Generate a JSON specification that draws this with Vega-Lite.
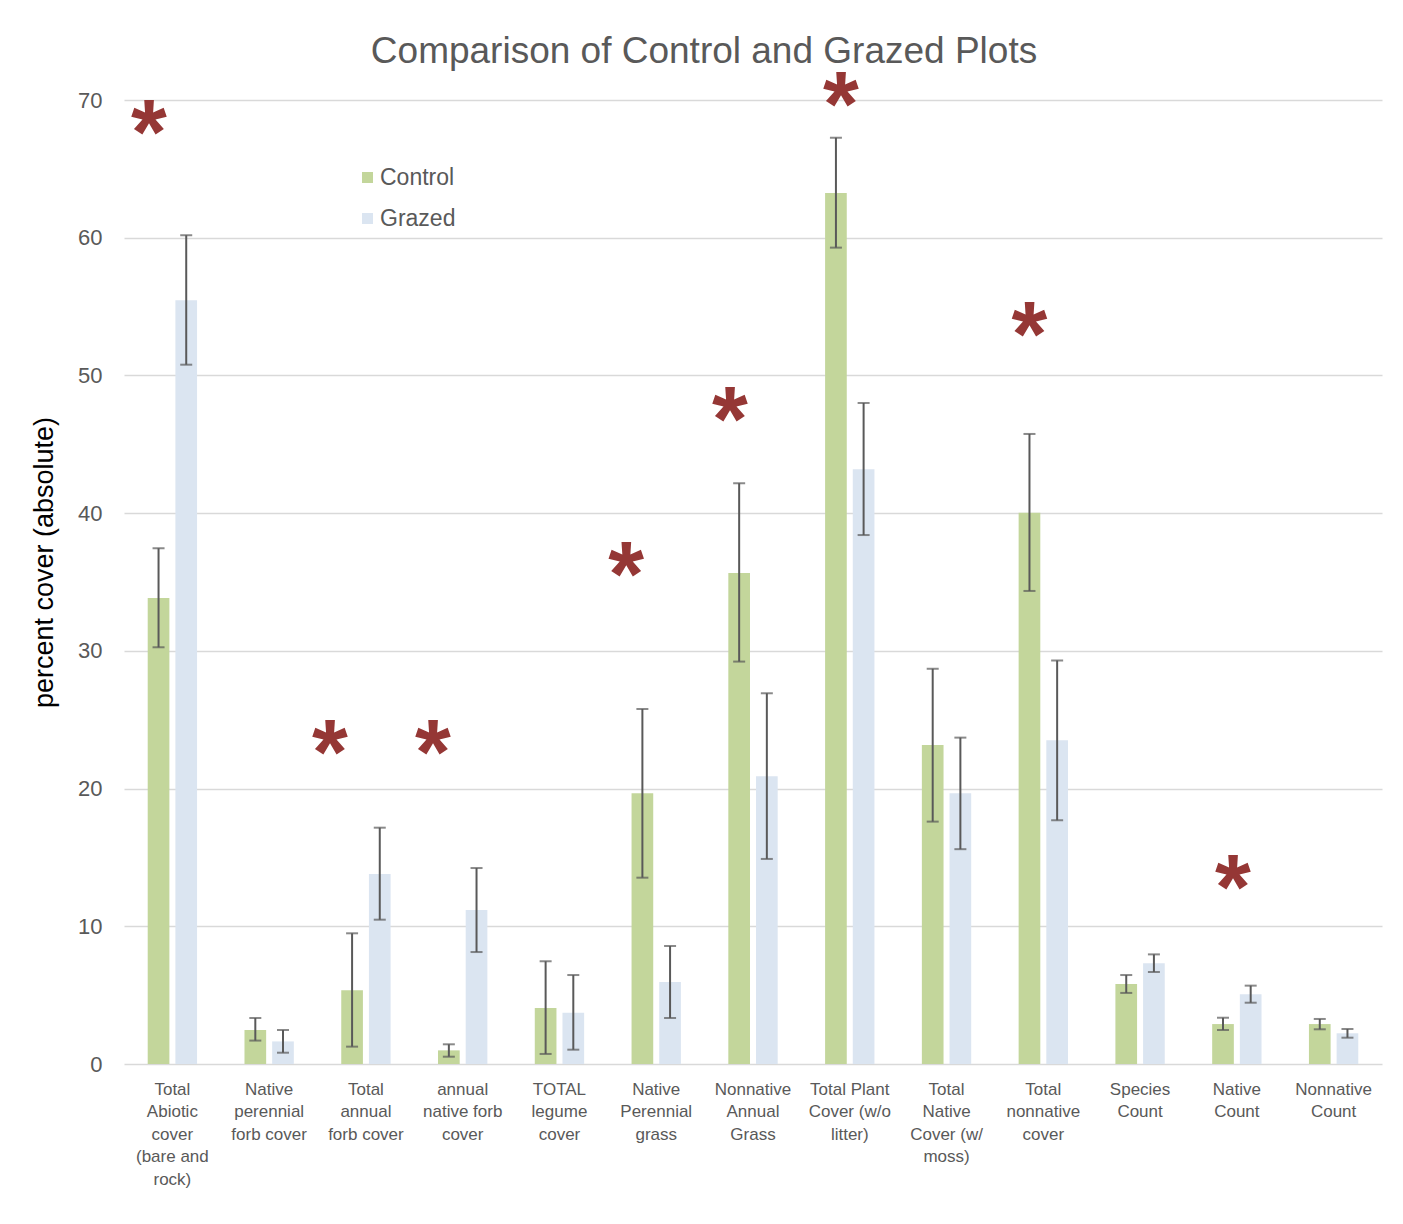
{
  "$schema": "https://vega.github.io/schema/vega-lite/v6.json",
  "width": 1258,
  "height": 964,
  "autosize": {"type": "none"},
  "padding": {"left": 124, "top": 100, "right": 21, "bottom": 160},
  "background": "white",
  "title": {
    "text": "Comparison of Control and Grazed Plots",
    "font": "Liberation Sans",
    "fontSize": 37,
    "fontWeight": "normal",
    "color": "#595959",
    "anchor": "middle",
    "frame": "group",
    "baseline": "alphabetic",
    "offset": -38,
    "dx": -49
  },
  "datasets": {
    "bars": [
      {"category": "Total Abiotic cover (bare and rock)", "group": "Control", "value": 33.84, "lo": 30.26, "hi": 37.45},
      {"category": "Total Abiotic cover (bare and rock)", "group": "Grazed", "value": 55.46, "lo": 50.78, "hi": 60.18},
      {"category": "Native perennial forb cover", "group": "Control", "value": 2.47, "lo": 1.7, "hi": 3.34},
      {"category": "Native perennial forb cover", "group": "Grazed", "value": 1.64, "lo": 0.82, "hi": 2.47},
      {"category": "Total annual forb cover", "group": "Control", "value": 5.35, "lo": 1.26, "hi": 9.49},
      {"category": "Total annual forb cover", "group": "Grazed", "value": 13.8, "lo": 10.48, "hi": 17.16},
      {"category": "annual native forb cover", "group": "Control", "value": 0.99, "lo": 0.53, "hi": 1.43},
      {"category": "annual native forb cover", "group": "Grazed", "value": 11.18, "lo": 8.13, "hi": 14.23},
      {"category": "TOTAL legume cover", "group": "Control", "value": 4.07, "lo": 0.73, "hi": 7.46},
      {"category": "TOTAL legume cover", "group": "Grazed", "value": 3.73, "lo": 1.04, "hi": 6.46},
      {"category": "Native Perennial grass", "group": "Control", "value": 19.66, "lo": 13.53, "hi": 25.78},
      {"category": "Native Perennial grass", "group": "Grazed", "value": 5.95, "lo": 3.34, "hi": 8.57},
      {"category": "Nonnative Annual Grass", "group": "Control", "value": 35.65, "lo": 29.22, "hi": 42.17},
      {"category": "Nonnative Annual Grass", "group": "Grazed", "value": 20.89, "lo": 14.89, "hi": 26.92},
      {"category": "Total Plant Cover (w/o litter)", "group": "Control", "value": 63.25, "lo": 59.28, "hi": 67.26},
      {"category": "Total Plant Cover (w/o litter)", "group": "Grazed", "value": 43.18, "lo": 38.41, "hi": 48.0},
      {"category": "Total Native Cover (w/ moss)", "group": "Control", "value": 23.16, "lo": 17.6, "hi": 28.7},
      {"category": "Total Native Cover (w/ moss)", "group": "Grazed", "value": 19.66, "lo": 15.6, "hi": 23.7},
      {"category": "Total nonnative cover", "group": "Control", "value": 40.03, "lo": 34.35, "hi": 45.75},
      {"category": "Total nonnative cover", "group": "Grazed", "value": 23.5, "lo": 17.7, "hi": 29.3},
      {"category": "Species Count", "group": "Control", "value": 5.81, "lo": 5.16, "hi": 6.46},
      {"category": "Species Count", "group": "Grazed", "value": 7.31, "lo": 6.68, "hi": 7.96},
      {"category": "Native Count", "group": "Control", "value": 2.9, "lo": 2.47, "hi": 3.36},
      {"category": "Native Count", "group": "Grazed", "value": 5.06, "lo": 4.45, "hi": 5.69},
      {"category": "Nonnative Count", "group": "Control", "value": 2.9, "lo": 2.52, "hi": 3.27},
      {"category": "Nonnative Count", "group": "Grazed", "value": 2.23, "lo": 1.91, "hi": 2.54}
    ],
    "sig": [
      {"category": "Total Abiotic cover (bare and rock)", "pos": 0.258, "y": 68.69},
      {"category": "Total annual forb cover", "pos": 2.129, "y": 23.67},
      {"category": "annual native forb cover", "pos": 3.193, "y": 23.67},
      {"category": "Native Perennial grass", "pos": 5.188, "y": 36.6},
      {"category": "Nonnative Annual Grass", "pos": 6.262, "y": 47.85},
      {"category": "Total Plant Cover (w/o litter)", "pos": 7.409, "y": 70.73},
      {"category": "Total nonnative cover", "pos": 9.357, "y": 54.03},
      {"category": "Native Count", "pos": 11.46, "y": 13.87}
    ]
  },
  "layer": [
    {
      "data": {"name": "bars"},
      "encoding": {
        "x": {
          "field": "category",
          "type": "nominal",
          "sort": null,
          "scale": {"paddingInner": 0.49, "paddingOuter": 0.245},
          "axis": {
            "title": null,
            "domain": false,
            "ticks": false,
            "labelAngle": 0,
            "labelFont": "Liberation Sans",
            "labelFontSize": 17,
            "labelLineHeight": 22.5,
            "labelPadding": 17,
            "labelColor": "#595959",
            "labelBaseline": "top",
            "labelLimit": 0,
            "labelExpr": "{'Total Abiotic cover (bare and rock)': ['Total','Abiotic','cover','(bare and','rock)'], 'Native perennial forb cover': ['Native','perennial','forb cover'], 'Total annual forb cover': ['Total','annual','forb cover'], 'annual native forb cover': ['annual','native forb','cover'], 'TOTAL legume cover': ['TOTAL','legume','cover'], 'Native Perennial grass': ['Native','Perennial','grass'], 'Nonnative Annual Grass': ['Nonnative','Annual','Grass'], 'Total Plant Cover (w/o litter)': ['Total Plant','Cover (w/o','litter)'], 'Total Native Cover (w/ moss)': ['Total','Native','Cover (w/','moss)'], 'Total nonnative cover': ['Total','nonnative','cover'], 'Species Count': ['Species','Count'], 'Native Count': ['Native','Count'], 'Nonnative Count': ['Nonnative','Count']}[datum.value]"
          }
        },
        "xOffset": {
          "field": "group",
          "type": "nominal",
          "scale": {"paddingInner": 0.217, "paddingOuter": 0}
        }
      },
      "layer": [
        {
          "mark": {"type": "bar"},
          "encoding": {
            "y": {
              "field": "value",
              "type": "quantitative",
              "scale": {"domain": [0, 70], "nice": false},
              "axis": {
                "title": "percent cover (absolute)",
                "values": [0, 10, 20, 30, 40, 50, 60, 70],
                "grid": true,
                "gridColor": "#D9D9D9",
                "gridWidth": 1.5,
                "domain": false,
                "ticks": false,
                "labelFont": "Liberation Sans",
                "labelFontSize": 22,
                "labelColor": "#595959",
                "labelPadding": 22,
                "titleFont": "Liberation Sans",
                "titleFontSize": 27,
                "titleFontWeight": "normal",
                "titleColor": "#000000",
                "titleX": -80,
                "titleY": 462,
                "titleAngle": -90,
                "titleAlign": "center",
                "titleBaseline": "middle"
              }
            },
            "color": {
              "field": "group",
              "type": "nominal",
              "scale": {"domain": ["Control", "Grazed"], "range": ["#C3D69B", "#DBE5F1"]},
              "legend": {
                "title": null,
                "orient": "none",
                "direction": "vertical",
                "legendX": 232,
                "legendY": 66,
                "symbolType": "square",
                "symbolSize": 121,
                "symbolStrokeWidth": 0,
                "symbolOpacity": 1,
                "labelFont": "Liberation Sans",
                "labelFontSize": 23,
                "labelColor": "#595959",
                "labelOffset": 1,
                "rowPadding": 17
              }
            }
          }
        },
        {
          "mark": {"type": "rule", "color": "#595959", "strokeWidth": 2},
          "encoding": {
            "y": {"field": "lo", "type": "quantitative"},
            "y2": {"field": "hi"}
          }
        },
        {
          "mark": {"type": "tick", "orient": "horizontal", "size": 12, "thickness": 2, "color": "#595959"},
          "encoding": {"y": {"field": "lo", "type": "quantitative"}}
        },
        {
          "mark": {"type": "tick", "orient": "horizontal", "size": 12, "thickness": 2, "color": "#595959"},
          "encoding": {"y": {"field": "hi", "type": "quantitative"}}
        }
      ]
    },
    {
      "data": {"name": "sig"},
      "mark": {
        "type": "text",
        "text": "*",
        "font": "Liberation Sans",
        "fontWeight": "bold",
        "fontSize": 92,
        "color": "#953735",
        "align": "center",
        "baseline": "alphabetic",
        "dy": 46
      },
      "encoding": {
        "x": {"field": "pos", "type": "quantitative", "scale": {"domain": [0, 13], "nice": false, "zero": false}, "axis": null},
        "y": {"field": "y", "type": "quantitative"}
      }
    }
  ],
  "resolve": {"scale": {"x": "independent"}},
  "config": {
    "view": {"stroke": null},
    "font": "Liberation Sans"
  }
}
